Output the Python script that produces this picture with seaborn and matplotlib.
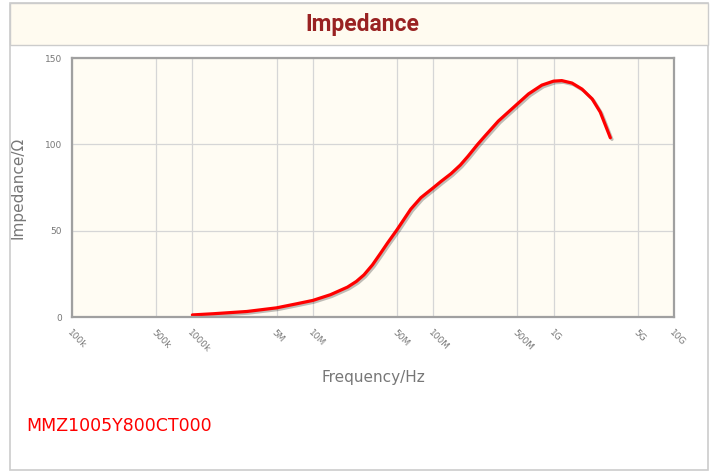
import numpy as np
import pandas as pd
import seaborn as sns
import matplotlib.pyplot as plt
import matplotlib.patches as mpatches
import matplotlib.patheffects as pe

sns.set_style("white")
plt.rcParams["font.family"] = ["DejaVu Sans"]

# impedance curve
freq_hz = [1.0e6, 1.5e6, 2.84e6, 5.0e6, 7.4e6, 1.0e7, 1.4e7, 1.94e7, 2.3e7, 2.66e7, 3.13e7,
           3.66e7, 4.17e7, 5.0e7, 6.5e7, 7.9e7, 1.0e8, 1.16e8, 1.406e8, 1.68e8, 1.94e8,
           2.34e8, 2.69e8, 3.48e8, 5.0e8, 6.19e8, 7.99e8, 1.0e9, 1.17e9, 1.42e9,
           1.72e9, 2.09e9, 2.44e9, 2.96e9]
impedance = [1.2, 1.9, 3.2, 5.3, 7.7, 9.6, 12.9, 17.3, 20.6, 24.4, 30.2,
             37.0, 42.8, 50.5, 62.4, 69.1, 74.8, 78.5, 83.0, 88.0, 93.0,
             100.0, 104.8, 113.5, 123.4, 129.2, 134.3, 136.6, 136.9, 135.5,
             132.0, 126.3, 118.7, 103.8]

x_ticks = [1e5, 5e5, 1e6, 5e6, 1e7, 5e7, 1e8, 5e8, 1e9, 5e9, 1e10]
x_labels = ["100k", "500k", "1000k", "5M", "10M", "50M", "100M", "500M", "1G", "5G", "10G"]
y_ticks = [0, 50, 100, 150]

part_no = "MMZ1005Y800CT000"

df = pd.DataFrame({"freq": freq_hz, "z": impedance})

fig = plt.figure(figsize=(7.17, 4.73), dpi=100)
W, H = 717, 473

# outer frame + title band
fig.patches.append(mpatches.Rectangle((10 / W, 1 - 470 / H), 698 / W, 467 / H,
                                      transform=fig.transFigure, fill=False,
                                      edgecolor="#cccccc", linewidth=1.2))
fig.patches.append(mpatches.Rectangle((10 / W, 1 - 45 / H), 698 / W, 42 / H,
                                      transform=fig.transFigure, facecolor="#fffbf0",
                                      edgecolor="#cccccc", linewidth=1.0))
fig.text(362 / W, 1 - 24 / H, "Impedance", ha="center", va="center",
         fontsize=16.5, fontweight="bold", color="#992222", family="Roboto")

ax = fig.add_axes([72 / W, 1 - 317 / H, (674 - 72) / W, (317 - 58) / H])
ax.set_facecolor("#fffcf3")

sns.lineplot(data=df, x="freq", y="z", ax=ax, color="#ff0000", linewidth=2.3,
             estimator=None, sort=True,
             path_effects=[pe.SimpleLineShadow(offset=(1.2, -1.2), alpha=0.25),
                           pe.Normal()])

ax.set_xscale("log")
ax.set_xlim(1e5, 1e10)
ax.set_ylim(0, 150)
ax.set_xticks(x_ticks)
ax.set_xticklabels(x_labels, rotation=-45, ha="left", va="top",
                   rotation_mode="anchor")
ax.minorticks_off()
ax.set_yticks(y_ticks)
ax.grid(True, color="#d6d6d6", linewidth=0.9)
ax.tick_params(axis="both", length=4, width=0.8, color="#999999",
               labelsize=6.5, labelcolor="#777777", pad=3)
ax.tick_params(axis="x", pad=4)

for s in ax.spines.values():
    s.set_color("#a0a0a0")
    s.set_linewidth(1.6)

ax.set_xlabel("Frequency/Hz", fontsize=11, color="#777777", labelpad=11)
ax.set_ylabel("Impedance/Ω", fontsize=11, color="#777777", labelpad=14)

fig.text(26 / W, 1 - 426 / H, part_no, ha="left", va="center",
         fontsize=12.5, color="#ff0000")

fig.savefig("out.png", dpi=100)
